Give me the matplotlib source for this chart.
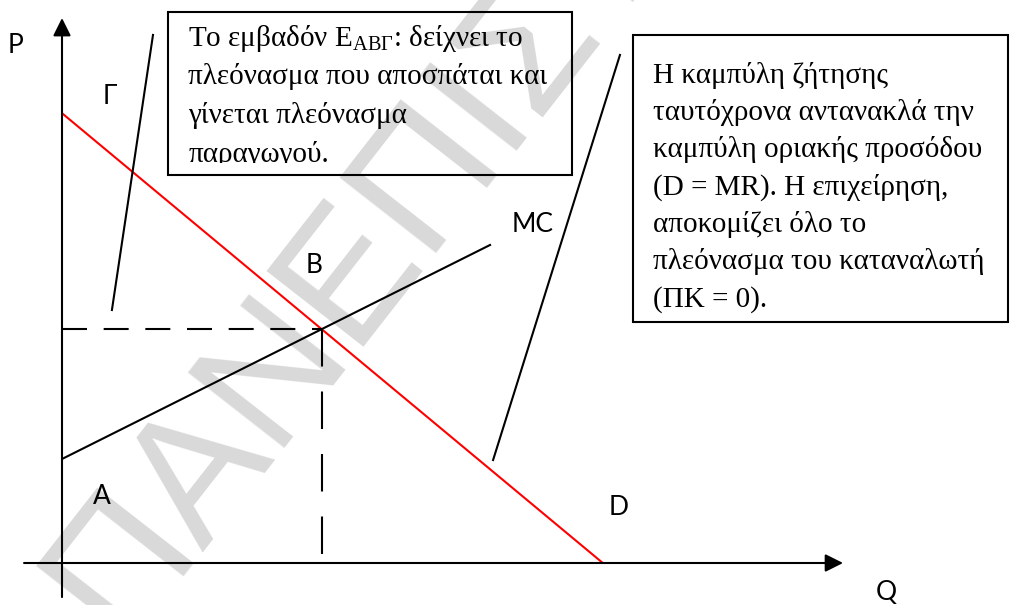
import matplotlib
matplotlib.use('Agg')
import matplotlib.pyplot as plt
from matplotlib.patches import Rectangle
from matplotlib.transforms import Bbox, TransformedBbox
import numpy as np


# diagram values (Q, P units)
demand_q = [0.0, 20.8]
demand_p = [17.3, 0.0]
mc_q = [0.0, 16.5]
mc_p = [4.0, 12.25]
eq_q = 10.0
eq_p = 9.0

# point labels
labels = ['P', 'Γ', 'B', 'MC', 'A', 'D', 'Q']
label_q = [-1.77, 1.85, 9.69, 18.12, 1.54, 21.42, 31.69]
label_p = [19.92, 17.96, 11.46, 13.0, 2.54, 2.12, -1.12]

# callout texts
note_left = ['Το εμβαδόν Ε$_{\\mathrm{ΑΒΓ}}$: δείχνει το',
             'πλεόνασμα που αποσπάται και',
             'γίνεται πλεόνασμα',
             'παραγωγού.']
note_right = ['Η καμπύλη ζήτησης',
              'ταυτόχρονα αντανακλά την',
              'καμπύλη οριακής προσόδου',
              '(D = MR). Η επιχείρηση,',
              'αποκομίζει όλο το',
              'πλεόνασμα του καταναλωτή',
              '(ΠΚ = 0).']

plt.rcParams['mathtext.fontset'] = 'custom'
plt.rcParams['mathtext.rm'] = 'Liberation Serif'

U = 26.0  # pixels per unit
fig = plt.figure(figsize=(10.13, 6.05), dpi=100)
ax = fig.add_axes([0, 0, 1, 1])
ax.set_xlim(-62 / U, 951 / U)
ax.set_ylim(-42 / U, 563 / U)
ax.axis('off')

# watermark behind everything
fig.text(119 / 1013, 1 - 642 / 605, 'ΠΑΝΕΠΙΣΤΗΜΙΟ',
         rotation=52, rotation_mode='anchor', ha='left', va='baseline',
         fontsize=128, color='#d9d9d9', family='Liberation Sans', zorder=-1)

# axes with arrow heads
ax.annotate('', xy=(30.04, 0), xytext=(-1.46, 0),
            arrowprops=dict(arrowstyle='-|>', color='black', lw=1.5,
                            mutation_scale=27, shrinkA=0, shrinkB=0))
ax.annotate('', xy=(0, 20.96), xytext=(0, -1.31),
            arrowprops=dict(arrowstyle='-|>', color='black', lw=1.5,
                            mutation_scale=27, shrinkA=0, shrinkB=0))

# curves
ax.plot(demand_q, demand_p, color='red', lw=1.5, solid_capstyle='butt')
ax.plot(mc_q, mc_p, color='black', lw=1.5, solid_capstyle='butt')

# equilibrium guides
ax.plot([0, eq_q], [eq_p, eq_p], color='black', lw=1.5, dashes=(12, 8))
ax.plot([eq_q, eq_q], [eq_p, 0], color='black', lw=1.5, dashes=(18, 12))

# callout pointers
ax.plot([3.5, 1.92], [20.31, 9.73], color='black', lw=1.5)
ax.plot([21.46, 16.58], [19.54, 3.96], color='black', lw=1.5)

for s, q, p in zip(labels, label_q, label_p):
    ax.text(q, p, s, fontsize=19, family='Lato', ha='center', va='center')

# boxes
box1 = (4.08, 14.92, 19.62 - 4.08, 21.19 - 14.92)
box2 = (21.96, 9.27, 36.38 - 21.96, 20.31 - 9.27)
for b in (box1, box2):
    ax.add_patch(Rectangle(b[:2], b[2], b[3], fill=False, ec='black', lw=1.5))

# last line of the left note runs past the box and gets cut
clip = TransformedBbox(Bbox([[box1[0], (563 - 163) / U],
                             [box1[0] + box1[2], box1[1] + box1[3]]]),
                       ax.transData)
for i, line in enumerate(note_left):
    t = ax.text(4.85, (563 - 46) / U - i * 38.5 / U, line, fontsize=21,
                family='Liberation Serif', va='baseline', ha='left')
    t.set_clip_path(None)
    t.set_clip_box(clip)
    t.set_clip_on(True)

for i, line in enumerate(note_right):
    ax.text(22.73, 18.46 - i * 37.2 / U, line, fontsize=21,
            family='Liberation Serif', va='baseline', ha='left')

fig.savefig('out.png', dpi=100)
